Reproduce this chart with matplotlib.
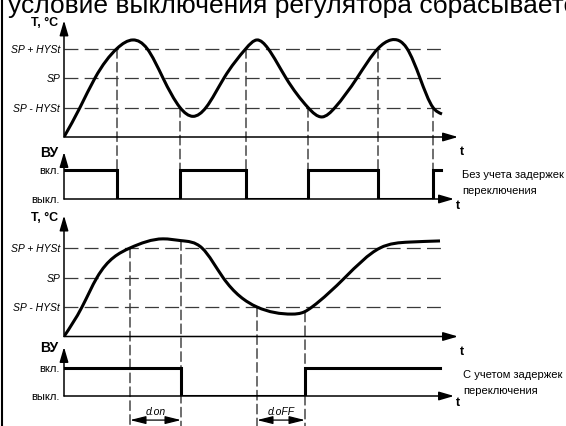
import numpy as np
import matplotlib
matplotlib.use('Agg')
import matplotlib.pyplot as plt
from matplotlib.path import Path
from matplotlib.patches import PathPatch, ConnectionPatch
from matplotlib.lines import Line2D

plt.rcParams['lines.scale_dashes'] = False
plt.rcParams['patch.antialiased'] = True

# ---------------- data ----------------
title = "условие выключения регулятора сбрасывается"
level_values = [1, 2, 3]                      # SP-HYSt, SP, SP+HYSt (SP=2, HYSt=1)
level_labels = ["SP - HYSt", "SP", "SP + HYSt"]
state_labels = ["выкл.", "вкл."]
temp_label = "T, °C"
out_label = "ВУ"

# top: without switching delays
top_t = [0, 16, 31, 53, 69, 83, 99, 116, 129, 142, 160, 182, 193, 204, 222,
         244, 258, 271, 293, 314, 327, 343, 356, 369, 378]
top_T = [0, 1, 2, 3, 3.29, 3, 2, 1, 0.7, 1, 2, 3, 3.29, 3, 2,
         1, 0.68, 1, 2, 3, 3.29, 3, 2, 1, 0.78]
top_switch_t = [0, 53, 116, 182, 244, 314, 369, 377]
top_switch_state = [1, 0, 1, 0, 1, 0, 1]
top_event_t = [53, 116, 182, 244, 314, 369]
top_event_T = [3, 1, 3, 1, 3, 1]
top_note = "Без учета задержек\nпереключения"

# bottom: with switching delays
bot_t = [0, 18, 33, 66, 99, 117, 138, 159, 193, 228, 240, 248, 281, 316, 345, 376]
bot_T = [0, 1, 2, 3, 3.31, 3.25, 3, 2, 1, 0.76, 0.83, 1, 2, 3, 3.2, 3.24]
bot_switch_t = [0, 117, 241, 376]
bot_switch_state = [1, 0, 1]
bot_event_t = [66, 117, 193, 241]
bot_event_T = [3, 3.25, 1, 0.83]
delay_names = ["d.on", "d.oFF"]
delay_start = [66, 193]
delay_end = [117, 241]
bot_note = "С учетом задержек\nпереключения"

# ---------------- layout ----------------
W, H = 566, 427
fig = plt.figure(figsize=(W / 100, H / 100), dpi=100)
fig.patch.set_facecolor('white')

NARROW = ['Liberation Sans Narrow', 'Liberation Sans', 'DejaVu Sans']
SANS = ['Liberation Sans', 'DejaVu Sans']

def add_ax(y0_px, px_per_unit, ymin, ymax):
    left = 64 / W
    width = 400 / W
    bottom = (H - y0_px) / H + ymin * px_per_unit / H
    height = (ymax - ymin) * px_per_unit / H
    ax = fig.add_axes([left, bottom, width, height])
    ax.set_xlim(0, 400)
    ax.set_ylim(ymin, ymax)
    ax.axis('off')
    return ax

axT1 = add_ax(138, 29.5, 0, 3.95)
axV1 = add_ax(200, 29.0, 0, 1.62)
axT2 = add_ax(337.5, 29.5, 0, 4.1)
axV2 = add_ax(397, 28.0, 0, 1.75)

def spline_path(xs, ys):
    """Bezier path (drawn by matplotlib) through the key points, C2-smooth tangents."""
    xs = np.asarray(xs, float); ys = np.asarray(ys, float)
    n = len(xs)
    h = np.diff(xs); d = np.diff(ys) / h
    A = np.zeros((n, n)); r = np.zeros(n)
    A[0, 0], A[0, 1], r[0] = 2, 1, 3 * d[0]
    A[-1, -2], A[-1, -1], r[-1] = 1, 2, 3 * d[-1]
    for i in range(1, n - 1):
        A[i, i - 1] = h[i]
        A[i, i] = 2 * (h[i - 1] + h[i])
        A[i, i + 1] = h[i - 1]
        r[i] = 3 * (h[i] * d[i - 1] + h[i - 1] * d[i])
    m = np.linalg.solve(A, r)
    verts = [(xs[0], ys[0])]; codes = [Path.MOVETO]
    for i in range(n - 1):
        verts += [(xs[i] + h[i] / 3, ys[i] + m[i] * h[i] / 3),
                  (xs[i + 1] - h[i] / 3, ys[i + 1] - m[i + 1] * h[i] / 3),
                  (xs[i + 1], ys[i + 1])]
        codes += [Path.CURVE4] * 3
    return Path(verts, codes)

arrow_kw = dict(arrowstyle='-|>,head_length=0.75,head_width=0.22', color='k',
                lw=1.1, mutation_scale=12, shrinkA=0, shrinkB=0)

def axes_arrows(ax, ytop, xend):
    ax.annotate('', xy=(0, ytop), xytext=(0, 0), arrowprops=arrow_kw, annotation_clip=False)
    ax.annotate('', xy=(xend, 0), xytext=(0, 0), arrowprops=arrow_kw, annotation_clip=False)
    ax.text(xend + 2, -0.12 * (ytop), 't', fontsize=9, fontweight='bold', family=NARROW,
            ha='left', va='center')

hdash = (0, (10.0, 4.5))
vdash = (0, (7.0, 3.0))

def temp_panel(ax, ts, Ts, ytop):
    for v, lab in zip(level_values, level_labels):
        ax.plot([0, 381], [v, v], color='#3a3a3a', lw=0.9, linestyle=hdash, zorder=1)
        ax.text(-4, v, lab, fontsize=7.5, style='italic', family=NARROW, ha='right', va='center')
    ax.add_patch(PathPatch(spline_path(ts, Ts), fill=False, lw=2.2, color='k',
                           capstyle='butt', joinstyle='round', zorder=3))
    axes_arrows(ax, ytop, 394)
    ax.text(-6, ytop - 0.05, temp_label, fontsize=9, fontweight='bold', family=NARROW,
            ha='right', va='center')

def out_panel(ax, ts, states, ytop, xend):
    ys = list(states) + [states[-1]]
    ax.step(ts, ys, where='post', color='k', lw=2.2, zorder=3, solid_joinstyle='miter')
    axes_arrows(ax, ytop, xend)
    ax.text(-4, 1, state_labels[1], fontsize=8, family=NARROW, ha='right', va='center')
    ax.text(-4, 0, state_labels[0], fontsize=8, family=NARROW, ha='right', va='center')
    ax.text(-6, ytop, out_label, fontsize=10, fontweight='bold', family=NARROW,
            ha='right', va='center')

temp_panel(axT1, top_t, top_T, 3.95)
out_panel(axV1, top_switch_t, top_switch_state, 1.62, 390)
temp_panel(axT2, bot_t, bot_T, 4.1)
out_panel(axV2, bot_switch_t, bot_switch_state, 1.75, 390)

for t, T in zip(top_event_t, top_event_T):
    fig.add_artist(ConnectionPatch(xyA=(t, T), coordsA=axT1.transData,
                                   xyB=(t, 0), coordsB=axV1.transData,
                                   lw=0.8, color='k', linestyle=vdash, zorder=0))
for t, T in zip(bot_event_t, bot_event_T):
    fig.add_artist(ConnectionPatch(xyA=(t, T), coordsA=axT2.transData,
                                   xyB=(t, -1.15), coordsB=axV2.transData,
                                   lw=0.8, color='k', linestyle=vdash, zorder=0))

for name, a, b in zip(delay_names, delay_start, delay_end):
    axV2.annotate('', xy=(a, -0.86), xytext=(b, -0.86), annotation_clip=False,
                  arrowprops=dict(arrowstyle='<|-|>,head_length=0.8,head_width=0.2',
                                  color='k', lw=0.9, mutation_scale=12, shrinkA=0, shrinkB=0))
    axV2.text((a + b) / 2, -0.55, name, fontsize=7.5, style='italic', family=NARROW,
              ha='center', va='center')

axV1.text(398, 0.6, top_note, fontsize=8, family=NARROW, ha='left', va='center',
          linespacing=1.75)
axV2.text(399, 0.5, bot_note, fontsize=8, family=NARROW, ha='left', va='center',
          linespacing=1.75)

fig.text(8 / W, 1 - 13 / H, title, fontsize=19, family=SANS, ha='left', va='baseline')
fig.add_artist(Line2D([1.5 / W, 1.5 / W], [0, 1], transform=fig.transFigure, color='k', lw=1.5))

fig.savefig('out.png', dpi=100, facecolor='white')
